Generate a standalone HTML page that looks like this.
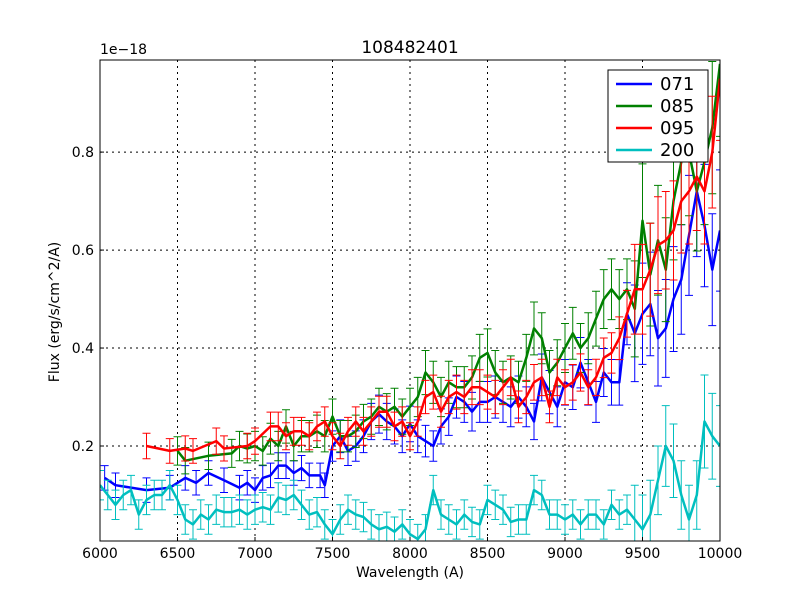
<!DOCTYPE html>
<html><head><meta charset="utf-8"><style>
body{margin:0;background:#fff;}
svg{display:block;font-family:"DejaVu Sans","Liberation Sans",sans-serif;}
</style></head><body>
<svg id="chart" width="800" height="600" viewBox="0 0 800 600">
<rect width="800" height="600" fill="#fff"/>
<g id="grid"></g>
<g id="series"></g>
<rect x="100" y="60" width="620" height="481" fill="none" stroke="#000" stroke-width="1"/>
<g id="axes"></g>
<text x="410" y="53" font-size="17" text-anchor="middle">108482401</text>
<text x="100" y="54" font-size="14">1e−18</text>
<text x="410" y="577" font-size="14" text-anchor="middle">Wavelength (A)</text>
<text x="59" y="312" font-size="14" text-anchor="middle" transform="rotate(-90 59 312)">Flux (erg/s/cm^2/A)</text>
<g id="legend"></g>
</svg>
<script>
const xTicks=[6000,6500,7000,7500,8000,8500,9000,9500,10000];
const yTicks=[0.2,0.4,0.6,0.8];
const seriesNames=["071","085","095","200"];
const seriesColors=["#0000ff","#008000","#ff0000","#00bfbf"];
const wl071=[6030,6100,6300,6450,6550,6620,6700,6800,6900,6950,7000,7050,7100,7150,7200,7250,7300,7350,7420,7450,7500,7550,7600,7650,7700,7750,7800,7850,7900,7950,8000,8050,8100,8150,8200,8250,8300,8350,8400,8450,8500,8550,8600,8650,8700,8750,8800,8850,8900,8950,9000,9050,9100,9150,9200,9250,9300,9350,9400,9450,9500,9550,9600,9650,9700,9750,9800,9850,9900,9950,10000];
const flux071=[0.135,0.12,0.11,0.115,0.135,0.125,0.145,0.13,0.115,0.125,0.11,0.135,0.14,0.16,0.16,0.145,0.155,0.14,0.14,0.12,0.2,0.22,0.19,0.2,0.22,0.25,0.265,0.25,0.24,0.22,0.245,0.22,0.21,0.2,0.24,0.26,0.3,0.29,0.27,0.29,0.29,0.3,0.29,0.28,0.3,0.28,0.25,0.34,0.31,0.28,0.33,0.32,0.37,0.33,0.29,0.35,0.33,0.33,0.47,0.43,0.47,0.49,0.42,0.44,0.5,0.54,0.63,0.72,0.65,0.56,0.64];
const wl085=[6500,6550,6700,6850,6900,6950,7000,7050,7100,7150,7200,7250,7300,7350,7400,7450,7500,7550,7600,7650,7700,7750,7800,7850,7900,7950,8000,8050,8100,8150,8200,8250,8300,8350,8400,8450,8500,8550,8600,8650,8700,8750,8800,8850,8900,8950,9000,9050,9100,9150,9200,9250,9300,9350,9400,9450,9500,9550,9600,9650,9700,9750,9800,9850,9900,9950,10000];
const flux085=[0.19,0.17,0.18,0.185,0.2,0.195,0.2,0.19,0.215,0.2,0.24,0.2,0.22,0.22,0.23,0.22,0.26,0.22,0.22,0.23,0.25,0.26,0.28,0.27,0.28,0.26,0.28,0.3,0.35,0.33,0.3,0.33,0.32,0.32,0.34,0.38,0.39,0.35,0.33,0.34,0.33,0.38,0.44,0.42,0.35,0.37,0.4,0.43,0.4,0.42,0.46,0.5,0.52,0.5,0.52,0.48,0.66,0.55,0.62,0.56,0.7,0.78,0.8,0.72,0.78,0.85,0.98];
const wl095=[6300,6450,6550,6600,6750,6800,6950,7000,7100,7150,7200,7250,7300,7350,7400,7450,7500,7550,7600,7650,7700,7750,7800,7850,7900,7950,8000,8050,8100,8150,8200,8250,8300,8350,8400,8450,8500,8550,8600,8650,8700,8750,8800,8850,8900,8950,9000,9050,9100,9150,9200,9250,9300,9350,9400,9450,9500,9550,9600,9650,9700,9750,9800,9850,9900,9950,10000];
const flux095=[0.2,0.19,0.195,0.19,0.21,0.195,0.2,0.21,0.24,0.24,0.22,0.23,0.23,0.22,0.24,0.25,0.22,0.2,0.23,0.25,0.23,0.25,0.27,0.27,0.24,0.25,0.22,0.25,0.3,0.31,0.27,0.3,0.31,0.3,0.32,0.32,0.31,0.3,0.32,0.34,0.28,0.3,0.33,0.34,0.28,0.34,0.32,0.33,0.35,0.32,0.34,0.38,0.39,0.42,0.47,0.52,0.52,0.56,0.61,0.62,0.64,0.7,0.72,0.75,0.72,0.8,0.95];
const wl200=[6000,6050,6100,6150,6200,6250,6300,6350,6400,6450,6500,6550,6600,6650,6700,6750,6800,6850,6900,6950,7000,7050,7100,7150,7200,7250,7300,7350,7400,7450,7500,7550,7600,7650,7700,7750,7800,7850,7900,7950,8000,8050,8100,8150,8200,8250,8300,8350,8400,8450,8500,8550,8600,8650,8700,8750,8800,8850,8900,8950,9000,9050,9100,9150,9200,9250,9300,9350,9400,9450,9500,9550,9600,9650,9700,9750,9800,9850,9900,9950,10000];
const flux200=[0.12,0.1,0.08,0.1,0.11,0.06,0.09,0.1,0.1,0.12,0.09,0.05,0.04,0.06,0.05,0.07,0.065,0.065,0.07,0.06,0.07,0.075,0.07,0.095,0.09,0.1,0.08,0.06,0.065,0.04,0.02,0.05,0.07,0.06,0.055,0.04,0.03,0.035,0.025,0.04,0.02,0.01,0.03,0.11,0.06,0.05,0.04,0.06,0.045,0.04,0.09,0.08,0.07,0.045,0.05,0.05,0.11,0.1,0.06,0.06,0.05,0.06,0.04,0.06,0.06,0.04,0.08,0.06,0.07,0.05,0.03,0.06,0.13,0.2,0.17,0.1,0.05,0.1,0.25,0.22,0.2];
const errBase=[0.025,0.025,0.022,0.03];
const errGrow=[0.12,0.1,0.08,0.25];

const X0=100,X1=720,Y0=541,Y1=60,XMIN=6000,XMAX=10000,YMIN=0.0061,YMAX=0.988;
const sx=v=>X0+(v-XMIN)/(XMAX-XMIN)*(X1-X0);
const sy=v=>Y0-(v-YMIN)/(YMAX-YMIN)*(Y0-Y1);
const NS="http://www.w3.org/2000/svg";
function mk(tag,attrs,parent){const e=document.createElementNS(NS,tag);for(const k in attrs)e.setAttribute(k,attrs[k]);parent.appendChild(e);return e;}
const grid=document.getElementById('grid'),axes=document.getElementById('axes'),ser=document.getElementById('series'),leg=document.getElementById('legend');
xTicks.forEach(t=>{const x=sx(t);
 if(t>XMIN&&t<XMAX){const g=mk('line',{x1:x,x2:x,y1:Y1,y2:Y0,stroke:'#000','stroke-dasharray':'2,4','stroke-width':1},grid);
 }
 const tk=mk('line',{x1:x,x2:x,y1:Y0,y2:Y0-4,stroke:'#000'},axes);
 const tx=mk('text',{x:x,y:Y0+17,'font-size':14,'text-anchor':'middle'},axes);tx.textContent=t;
 });
yTicks.forEach(t=>{const y=sy(t);
 const g=mk('line',{x1:X0,x2:X1,y1:y,y2:y,stroke:'#000','stroke-dasharray':'2,4','stroke-width':1},grid);
 
 const tk=mk('line',{x1:X0,x2:X0+4,y1:y,y2:y,stroke:'#000'},axes);
 const tx=mk('text',{x:X0-6,y:y+5,'font-size':14,'text-anchor':'end'},axes);tx.textContent=t.toFixed(1);
 });
const wls=[wl071,wl085,wl095,wl200],fls=[flux071,flux085,flux095,flux200];
const clip=mk('clipPath',{id:'pc'},document.getElementById('chart'));mk('rect',{x:X0,y:Y1,width:X1-X0,height:Y0-Y1},clip);
ser.setAttribute('clip-path','url(#pc)');
for(let s=0;s<4;s++){
 const g=mk('g',{},ser);
 const c=seriesColors[s];let pts=[];
 wls[s].forEach((w,i)=>{const v=fls[s][i];const e=errBase[s]+errGrow[s]*Math.max(0,v-0.15)+ (w>9400?0.04:0);
  const x=sx(w),ya=sy(v+e),yb=sy(v-e);
  const eb=mk('path',{d:`M${x},${ya}V${yb}M${x-4},${ya}H${x+4}M${x-4},${yb}H${x+4}`,stroke:c,'stroke-width':1,fill:'none'},g);
  
  pts.push(x.toFixed(1)+','+sy(v).toFixed(1));});
 const ln=mk('polyline',{points:pts.join(' '),fill:'none',stroke:c,'stroke-width':2.5,'stroke-linejoin':'round'},g);
 
}
const lb=mk('rect',{x:608,y:70,width:100,height:92,fill:'#fff',stroke:'#000'},leg);

seriesNames.forEach((n,i)=>{const y=84+i*22;
 const l=mk('line',{x1:616,x2:652,y1:y,y2:y,stroke:seriesColors[i],'stroke-width':2.5},leg);
 
 const t=mk('text',{x:660,y:y+6,'font-size':18},leg);t.textContent=n;
 });
</script>
</body></html>
